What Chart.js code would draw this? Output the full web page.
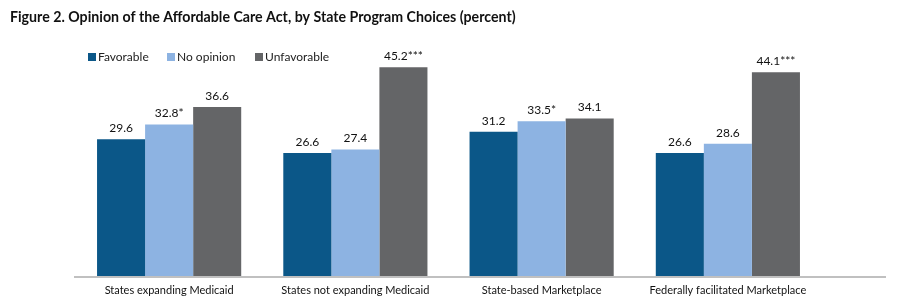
<!DOCTYPE html>
<html>
<head>
<meta charset="utf-8">
<script src="https://cdn.jsdelivr.net/npm/chart.js@4"></script>
<style>
  body { margin: 0; background: #fff; }
  #wrap { width: 900px; height: 300px; position: relative; }
</style>
</head>
<body>
<div id="wrap"><canvas id="chart"></canvas></div>
<script>
const titleText = 'Figure 2. Opinion of the Affordable Care Act, by State Program Choices (percent)';
const categories = ['States expanding Medicaid', 'States not expanding Medicaid', 'State-based Marketplace', 'Federally facilitated Marketplace'];
const seriesNames = ['Favorable', 'No opinion', 'Unfavorable'];
const favorable = [29.6, 26.6, 31.2, 26.6];
const noOpinion = [32.8, 27.4, 33.5, 28.6];
const unfavorable = [36.6, 45.2, 34.1, 44.1];
const favorableMarks = ['', '', '', ''];
const noOpinionMarks = ['*', '', '*', ''];
const unfavorableMarks = ['', '***', '', '***'];
const colors = ['#0b5788', '#8db3e2', '#646567'];

const FONT = 'Lato, "Open Sans", sans-serif';

// title, legend, baseline and value labels
const extras = {
  id: 'extras',
  afterDraw(chart) {
    const ctx = chart.ctx;
    const area = chart.chartArea;
    ctx.save();
    ctx.fillStyle = '#111';
    ctx.font = 'bold 14.2px ' + FONT;
    ctx.textBaseline = 'middle';
    ctx.textAlign = 'left';
    ctx.fillText(titleText, 10, 17);

    // legend
    ctx.font = '12px ' + FONT;
    const legendX = [88, 167, 255];
    seriesNames.forEach((name, i) => {
      ctx.fillStyle = colors[i];
      ctx.fillRect(legendX[i], 53, 8, 8);
      ctx.fillStyle = '#222';
      ctx.fillText(name, legendX[i] + 10, 57);
    });

    // baseline
    ctx.strokeStyle = '#c0c0c0';
    ctx.lineWidth = 2;
    ctx.beginPath();
    ctx.moveTo(74, area.bottom + 1);
    ctx.lineTo(886, area.bottom + 1);
    ctx.stroke();
    ctx.restore();
  },
  afterDatasetsDraw(chart) {
    const ctx = chart.ctx;
    const marks = [favorableMarks, noOpinionMarks, unfavorableMarks];
    ctx.save();
    ctx.font = '12px ' + FONT;
    ctx.fillStyle = '#111';
    ctx.textAlign = 'center';
    ctx.textBaseline = 'alphabetic';
    chart.data.datasets.forEach((ds, i) => {
      chart.getDatasetMeta(i).data.forEach((bar, j) => {
        ctx.fillText(ds.data[j].toFixed(1) + marks[i][j], bar.x, bar.y - 7);
      });
    });
    ctx.restore();
  }
};

new Chart(document.getElementById('chart'), {
  type: 'bar',
  data: {
    labels: categories,
    datasets: [
      { label: seriesNames[0], data: favorable, backgroundColor: colors[0] },
      { label: seriesNames[1], data: noOpinion, backgroundColor: colors[1] },
      { label: seriesNames[2], data: unfavorable, backgroundColor: colors[2] }
    ]
  },
  options: {
    responsive: true,
    maintainAspectRatio: false,
    animation: false,
    layout: { padding: { left: 76, right: 79, top: 45, bottom: 0 } },
    datasets: { bar: { barPercentage: 1, categoryPercentage: 0.774 } },
    plugins: { legend: { display: false }, title: { display: false }, tooltip: { enabled: false } },
    scales: {
      x: {
        grid: { display: false, drawTicks: false },
        border: { display: false },
        ticks: { color: '#111', font: { family: FONT, size: 11 }, padding: 8, maxRotation: 0 },
        afterFit(scale) { scale.height = 24; }
      },
      y: { display: false, min: 0, max: 50 }
    }
  },
  plugins: [extras]
});
</script>
</body>
</html>
